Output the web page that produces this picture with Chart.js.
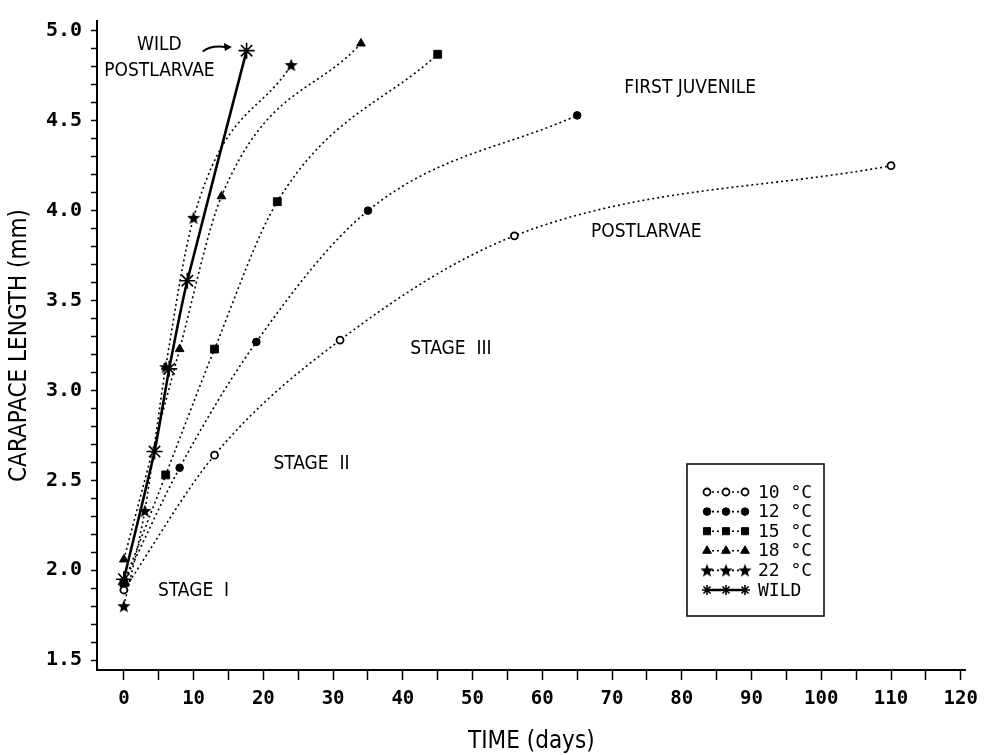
<!DOCTYPE html>
<html>
<head>
<meta charset="utf-8">
<script src="https://cdn.jsdelivr.net/npm/chart.js@4/dist/chart.umd.min.js"></script>
<style>
  body { margin: 0; background: #fff; }
  #wrap { width: 986px; height: 755px; }
</style>
</head>
<body>
<div id="wrap"><canvas id="chart" width="986" height="755"></canvas></div>
<script>
// Carapace length (mm) vs. time (days) at each rearing temperature
const days10 = [0, 13, 31, 56, 110];
const len10 = [1.89, 2.64, 3.28, 3.86, 4.25];
const days12 = [0, 8, 19, 35, 65];
const len12 = [1.93, 2.57, 3.27, 4.00, 4.53];
const days15 = [0, 6, 13, 22, 45];
const len15 = [1.93, 2.53, 3.23, 4.05, 4.87];
const days18 = [0, 8, 14, 34];
const len18 = [2.06, 3.23, 4.08, 4.93];
const days22 = [0, 3, 6, 10, 24];
const len22 = [1.80, 2.33, 3.13, 3.96, 4.81];
const daysWild = [0, 4.4, 6.5, 9.1, 17.6];
const lenWild = [1.95, 2.66, 3.12, 3.61, 4.89];

const seriesLabels = ['10 °C', '12 °C', '15 °C', '18 °C', '22 °C', 'WILD'];

// stage notes, placed in data units
const notes = [
  { text: 'WILD', x: 5.1, y: 4.923 },
  { text: 'POSTLARVAE', x: 5.1, y: 4.775 },
  { text: 'FIRST JUVENILE', x: 81.2, y: 4.68 },
  { text: 'POSTLARVAE', x: 74.9, y: 3.88 },
  { text: 'STAGE  III', x: 46.9, y: 3.23 },
  { text: 'STAGE  II', x: 26.9, y: 2.59 },
  { text: 'STAGE  I', x: 10.0, y: 1.885 }
];

const narrow = "'Liberation Sans Narrow', 'Arial Narrow', 'DejaVu Sans Condensed', sans-serif";
const mono = "'DejaVu Sans Mono', monospace";

function pts(xs, ys) {
  return xs.map((x, i) => ({ x: x, y: ys[i] }));
}

// solid five-pointed star for the 22 °C points
function makeStar(size) {
  const c = document.createElement('canvas');
  c.width = size; c.height = size;
  const g = c.getContext('2d');
  const r = size / 2, ri = r * 0.42;
  g.beginPath();
  for (let i = 0; i < 10; i++) {
    const a = -Math.PI / 2 + i * Math.PI / 5;
    const rr = i % 2 ? ri : r;
    g.lineTo(r + rr * Math.cos(a), r + 0.5 + rr * Math.sin(a));
  }
  g.closePath();
  g.fillStyle = '#000';
  g.fill();
  return c;
}
const starImg = makeStar(14);

const dotted = {
  showLine: true,
  borderColor: '#000',
  borderWidth: 1.6,
  borderDash: [2, 3],
  cubicInterpolationMode: 'monotone',
  pointBorderColor: '#000',
  pointBackgroundColor: '#000',
  pointBorderWidth: 1
};

const datasets = [
  Object.assign({}, dotted, { label: seriesLabels[0], data: pts(days10, len10), pointStyle: 'circle', pointRadius: 3.5, pointBackgroundColor: '#fff', pointBorderWidth: 1.8 }),
  Object.assign({}, dotted, { label: seriesLabels[1], data: pts(days12, len12), pointStyle: 'circle', pointRadius: 3.8 }),
  Object.assign({}, dotted, { label: seriesLabels[2], data: pts(days15, len15), pointStyle: 'rect', pointRadius: 5.5 }),
  Object.assign({}, dotted, { label: seriesLabels[3], data: pts(days18, len18), pointStyle: 'triangle', pointRadius: 5 }),
  Object.assign({}, dotted, { label: seriesLabels[4], data: pts(days22, len22), pointStyle: starImg, pointRadius: 7 }),
  { label: seriesLabels[5], data: pts(daysWild, lenWild), showLine: true, borderColor: '#000', borderWidth: 2.6,
    tension: 0.15, pointStyle: 'star', pointRadius: 8, pointBorderWidth: 1.6,
    pointBorderColor: '#000', pointBackgroundColor: '#000' }
];

const drawNotes = {
  id: 'drawNotes',
  afterDatasetsDraw(chart) {
    const { ctx, scales: { x, y } } = chart;
    ctx.save();
    ctx.fillStyle = '#000';
    ctx.font = '19px ' + narrow;
    ctx.textAlign = 'center';
    ctx.textBaseline = 'middle';
    notes.forEach(n => ctx.fillText(n.text, x.getPixelForValue(n.x), y.getPixelForValue(n.y)));

    // arrow from the WILD note to the last wild point
    const x0 = x.getPixelForValue(11.3), y0 = y.getPixelForValue(4.885);
    const x1 = x.getPixelForValue(15.2), y1 = y.getPixelForValue(4.91);
    ctx.strokeStyle = '#000';
    ctx.lineWidth = 2;
    ctx.beginPath();
    ctx.moveTo(x0, y0);
    ctx.quadraticCurveTo(x0 + 8, y1 - 2, x1 - 4, y1);
    ctx.stroke();
    ctx.beginPath();
    ctx.moveTo(x1 + 2, y1);
    ctx.lineTo(x1 - 6, y1 - 4);
    ctx.lineTo(x1 - 5, y1 + 4);
    ctx.closePath();
    ctx.fill();

    // legend box
    const bx = 687, by = 464, bw = 137, bh = 152;
    ctx.lineWidth = 1.5;
    ctx.strokeRect(bx, by, bw, bh);
    ctx.font = '18px ' + mono;
    ctx.textAlign = 'left';
    chart.data.datasets.forEach((ds, i) => {
      const ry = by + 28 + i * 19.6;
      ctx.save();
      ctx.lineWidth = ds.borderWidth;
      ctx.setLineDash(ds.borderDash || []);
      ctx.beginPath();
      ctx.moveTo(bx + 20, ry);
      ctx.lineTo(bx + 58, ry);
      ctx.stroke();
      ctx.restore();
      [20, 39, 58].forEach(dx => {
        ctx.fillStyle = ds.pointBackgroundColor;
        ctx.strokeStyle = ds.pointBorderColor;
        ctx.lineWidth = ds.pointBorderWidth;
        Chart.helpers.drawPoint(ctx, {
          pointStyle: ds.pointStyle,
          radius: Math.min(ds.pointRadius, 5),
          borderWidth: ds.pointBorderWidth,
          rotation: 0
        }, bx + dx, ry);
      });
      ctx.fillStyle = '#000';
      ctx.fillText(ds.label, bx + 71, ry + 1);
    });
    ctx.restore();
  }
};

new Chart(document.getElementById('chart'), {
  type: 'scatter',
  data: { datasets: datasets },
  options: {
    responsive: false,
    animation: false,
    layout: { padding: { top: 12, right: 15, left: 0, bottom: 0 } },
    plugins: { legend: { display: false }, tooltip: { enabled: false } },
    scales: {
      x: {
        type: 'linear',
        min: -3.85,
        max: 120.7,
        afterFit: s => { s.height = 85; },
        border: { display: true, color: '#000', width: 2 },
        grid: { drawOnChartArea: false, drawTicks: true, tickLength: 10, tickColor: '#000', tickWidth: 1.5 },
        ticks: {
          stepSize: 5,
          includeBounds: false,
          autoSkip: false,
          maxRotation: 0,
          padding: 8,
          color: '#000',
          font: { family: mono, size: 19, weight: 'bold' },
          callback: v => (Math.round(v) % 10 === 0 ? String(Math.round(v)) : '')
        },
        title: {
          display: true,
          text: 'TIME (days)',
          color: '#000',
          font: { family: narrow, size: 24, lineHeight: 1 },
          padding: { top: 0, bottom: 1 }
        }
      },
      y: {
        type: 'linear',
        min: 1.445,
        max: 5.055,
        afterFit: s => { s.width = 97; },
        border: { display: true, color: '#000', width: 2 },
        grid: { drawOnChartArea: false, drawTicks: true, tickLength: 6, tickColor: '#000', tickWidth: 1.5 },
        ticks: {
          stepSize: 0.1,
          includeBounds: false,
          autoSkip: false,
          padding: 9,
          color: '#000',
          font: { family: mono, size: 20, weight: 'bold' },
          callback: v => (Math.round(v * 10) % 5 === 0 ? v.toFixed(1) : '')
        },
        title: {
          display: true,
          text: 'CARAPACE LENGTH (mm)',
          color: '#000',
          font: { family: narrow, size: 24, lineHeight: 1 },
          padding: { top: 8, bottom: 0 }
        }
      }
    }
  },
  plugins: [drawNotes]
});
</script>
</body>
</html>
